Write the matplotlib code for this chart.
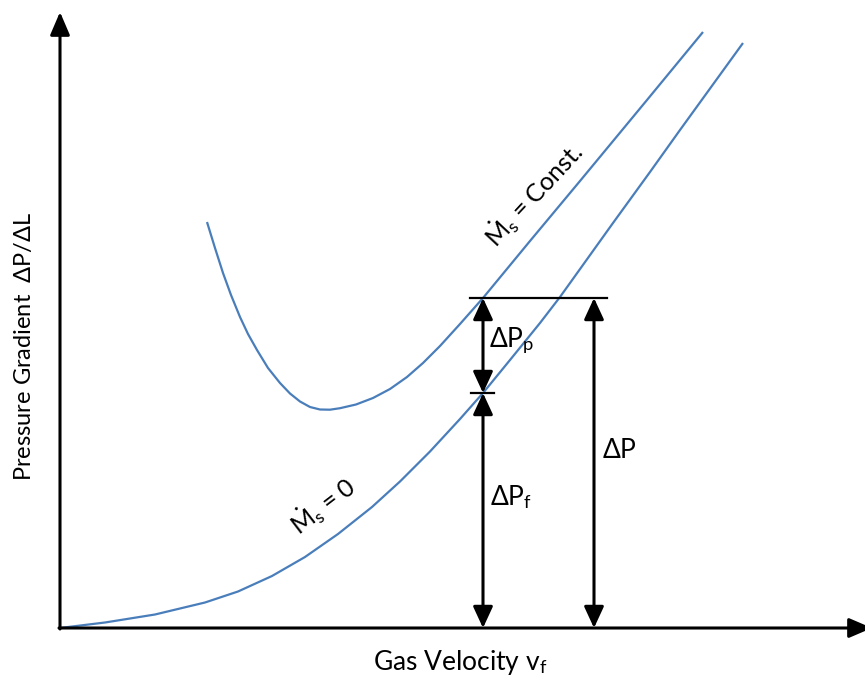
import matplotlib
matplotlib.use('Agg')
import matplotlib.pyplot as plt

plt.rc('font', family='Lato', size=18)
plt.rc('mathtext', fontset='custom', rm='Lato', it='Lato:italic', bf='Lato:bold')

# pressure gradient vs gas velocity (arbitrary units, origin at the axes corner)
# gas only, no solids
v_empty = [0, 45, 95, 145, 178, 212, 245, 278, 312, 340, 370, 400, 423, 450,
           480, 500, 553, 590, 620, 683]
dp_empty = [0, 5.5, 13.5, 25.5, 36.5, 52, 71, 94, 121, 146.5, 176.5, 209, 235, 268,
            305, 331, 405, 456, 498, 585]

# constant solids mass flow
v_solids = [147, 155, 163, 171, 180, 188, 197, 208, 220, 230, 240, 250, 260, 270,
            280, 296, 313, 330, 347, 363, 380, 400, 423, 470, 520, 587, 643]
dp_solids = [406, 380, 355, 333, 311, 294, 278, 260, 245, 234.5, 226.5, 221, 218.5, 218.3,
             219.8, 223.5, 230, 239, 251, 265, 282, 304, 330, 387, 447, 528, 596]

# operating velocity and the split of the pressure drop
v_op = 423
dp_fric = 235
dp_total = 330
v_total = 534

blue = '#4a7ebb'

fig = plt.figure(figsize=(8.65, 6.79), dpi=100)
ax = fig.add_axes([0, 0, 1, 1])
ax.set_xlim(-60, 805)
ax.set_ylim(-51, 628)
ax.axis('off')

# axes with arrow heads
arr = dict(arrowstyle='-|>,head_length=0.7,head_width=0.3', mutation_scale=20,
           lw=2.2, color='k', shrinkA=0, shrinkB=0)
ax.annotate('', xy=(0, 616), xytext=(0, -1), arrowprops=arr, annotation_clip=False)
ax.annotate('', xy=(812, 0), xytext=(-1, 0), arrowprops=arr, annotation_clip=False)

ax.plot(v_empty, dp_empty, color=blue, lw=1.6, solid_capstyle='butt')
ax.plot(v_solids, dp_solids, color=blue, lw=1.6, solid_capstyle='butt')

# pressure drop arrows
dbl = dict(arrowstyle='<|-|>,head_length=0.65,head_width=0.3', mutation_scale=20,
           lw=2.2, color='k', shrinkA=0, shrinkB=0)
ax.annotate('', xy=(v_op, dp_total), xytext=(v_op, dp_fric), arrowprops=dbl)
ax.annotate('', xy=(v_op, dp_fric), xytext=(v_op, 0), arrowprops=dbl)
ax.annotate('', xy=(v_total, dp_total), xytext=(v_total, 0), arrowprops=dbl)
ax.plot([v_op - 13, v_total + 13], [dp_total, dp_total], color='k', lw=1.6)
ax.plot([v_op - 12, v_op + 11], [dp_fric, dp_fric], color='k', lw=1.6)

ax.text(v_op + 6, 281, r'$\Delta$P$_\mathrm{p}$', fontsize=19, ha='left', va='baseline')
ax.text(v_op + 7, 123, r'$\Delta$P$_\mathrm{f}$', fontsize=19, ha='left', va='baseline')
ax.text(v_total + 8, 170, r'$\Delta$P', fontsize=19, ha='left', va='baseline')

ax.text(263, 122, r'$\dot{\mathrm{M}}_\mathrm{s}$ = 0', fontsize=18, rotation=37.5,
        ha='center', va='center', rotation_mode='anchor')
ax.text(474, 433, r'$\dot{\mathrm{M}}_\mathrm{s}$ = Const.', fontsize=18, rotation=47,
        ha='center', va='center', rotation_mode='anchor')

ax.text(400, -42, r'Gas Velocity v$_\mathrm{f}$', fontsize=19, ha='center', va='baseline')
ax.text(-36, 282, r'Pressure Gradient  $\Delta$P/$\Delta$L', fontsize=17,
        rotation=90, ha='center', va='center')

plt.savefig('out.png', dpi=100)
